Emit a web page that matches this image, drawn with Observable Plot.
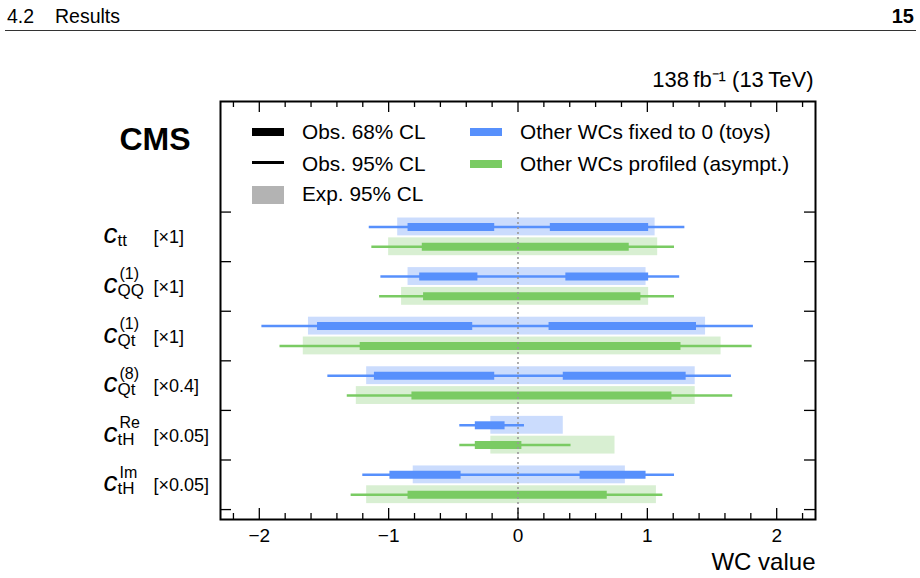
<!DOCTYPE html>
<html>
<head>
<meta charset="utf-8">
<script src="https://cdn.jsdelivr.net/npm/d3@7"></script>
<script src="https://cdn.jsdelivr.net/npm/@observablehq/plot@0.6"></script>
<style>
  html, body { margin: 0; padding: 0; background: #fff; }
  #page { position: relative; width: 920px; height: 578px; overflow: hidden;
          font-family: "Liberation Sans", Arial, Helvetica, sans-serif; color: #000; }
  .abs { position: absolute; white-space: nowrap; line-height: 1; }
</style>
</head>
<body>
<div id="page">
  <div class="abs" style="left:7px;top:6.5px;font-size:19.5px">4.2</div>
  <div class="abs" style="left:55px;top:6.5px;font-size:19.5px">Results</div>
  <div class="abs" style="right:6px;top:6px;font-size:20px;font-weight:bold">15</div>
  <div class="abs" style="left:5px;top:30px;width:911px;height:1px;background:#333"></div>
  <div id="chart" class="abs" style="left:0;top:40px"></div>
  <div id="legend"></div>
</div>
<script>
// Wilson coefficients, top to bottom
const params = ["ctt", "cQQ1", "cQt1", "cQt8", "ctHRe", "ctHIm"];
const symbolSub = ["tt", "QQ", "Qt", "Qt", "tH", "tH"];
const symbolSup = ["", "(1)", "(1)", "(8)", "Re", "Im"];
const scaleTags = ["[×1]", "[×1]", "[×1]", "[×0.4]", "[×0.05]", "[×0.05]"];

// Other WCs fixed to 0 (toys)
const fixedExp95 = [[-0.93, 1.06], [-0.85, 0.99], [-1.62, 1.45], [-1.17, 1.37], [-0.21, 0.35], [-0.81, 0.83]];
const fixedObs95 = [[-1.15, 1.29], [-1.06, 1.25], [-1.98, 1.82], [-1.47, 1.65], [-0.45, 0.05], [-1.20, 1.21]];
const fixedObs68 = [
  [[-0.85, -0.18], [0.25, 1.01]],
  [[-0.76, -0.31], [0.37, 1.01]],
  [[-1.55, -0.35], [0.24, 1.38]],
  [[-1.11, -0.18], [0.35, 1.30]],
  [[-0.33, -0.10]],
  [[-0.99, -0.44], [0.48, 0.99]]
];

// Other WCs profiled (asympt.)
const profExp95 = [[-1.00, 1.08], [-0.90, 1.01], [-1.66, 1.57], [-1.25, 1.37], [-0.21, 0.75], [-1.17, 1.07]];
const profObs95 = [[-1.13, 1.21], [-1.07, 1.21], [-1.84, 1.81], [-1.32, 1.66], [-0.45, 0.41], [-1.29, 1.12]];
const profObs68 = [
  [[-0.74, 0.86]],
  [[-0.73, 0.95]],
  [[-1.22, 1.26]],
  [[-0.82, 1.19]],
  [[-0.33, 0.03]],
  [[-0.85, 0.69]]
];

// axis ticks
const xMajorTicks = [-2, -1, 0, 1, 2];
const xMinorTicks = [-2.2, -1.8, -1.6, -1.4, -1.2, -0.8, -0.6, -0.4, -0.2,
                     0.2, 0.4, 0.6, 0.8, 1.2, 1.4, 1.6, 1.8, 2.2];
const rowEdges = [0, 1, 2, 3, 4, 5, 6];

const lumiLabel = "138\u2009fb\u207B\u00B9 (13\u2009TeV)";
const xLabel = "WC value";

const series = [
  {exp95: fixedExp95, obs95: fixedObs95, obs68: fixedObs68, color: "#5790fc", light: "#cbdcfd", offset: 0.2},
  {exp95: profExp95, obs95: profObs95, obs68: profObs68, color: "#7acb63", light: "#d8efd2", offset: -0.2}
];

const rowCenter = i => params.length - 0.5 - i;
const bands = [], lines = [], cores = [];
series.forEach(s => params.forEach((p, i) => {
  const y = rowCenter(i) + s.offset;
  bands.push({y, lo: s.exp95[i][0], hi: s.exp95[i][1], fill: s.light});
  lines.push({y, lo: s.obs95[i][0], hi: s.obs95[i][1], stroke: s.color});
  s.obs68[i].forEach(([lo, hi]) => cores.push({y, lo, hi, stroke: s.color}));
}));
const labels = params.map((p, i) => ({y: rowCenter(i), sub: symbolSub[i], sup: symbolSup[i], tag: scaleTags[i]}));

const width = 920, height = 538;
const margin = {top: 61, right: 105, bottom: 59, left: 220};
const innerW = width - margin.left - margin.right;
const innerH = height - margin.top - margin.bottom;
const majorLen = 11, minorLen = 6, yTickLen = 11;
const bandHalf = 0.18;

const chart = Plot.plot({
  width, height,
  marginTop: margin.top, marginRight: margin.right,
  marginBottom: margin.bottom, marginLeft: margin.left,
  style: {fontFamily: "'Liberation Sans', Arial, Helvetica, sans-serif", color: "#000", background: "transparent", overflow: "visible"},
  x: {domain: [-2.3, 2.3]},
  y: {domain: [-0.2, 8.23], axis: null},
  color: {type: "identity"},
  marks: [
    // expected 95% CL bands
    Plot.rect(bands, {x1: "lo", x2: "hi", y1: d => d.y - bandHalf, y2: d => d.y + bandHalf, fill: "fill"}),
    // observed 95% CL
    Plot.ruleY(lines, {y: "y", x1: "lo", x2: "hi", stroke: "stroke", strokeWidth: 2.5}),
    // observed 68% CL
    Plot.ruleY(cores, {y: "y", x1: "lo", x2: "hi", stroke: "stroke", strokeWidth: 8}),
    // SM reference
    Plot.ruleX([0], {y1: -0.2, y2: 6, stroke: "#9a9a9a", strokeWidth: 1.6, strokeDasharray: "2,3"}),
    // inward ticks, ROOT style
    Plot.ruleX(xMajorTicks, {insetTop: innerH - majorLen, stroke: "#000", strokeWidth: 1.3}),
    Plot.ruleX(xMinorTicks, {insetTop: innerH - minorLen, stroke: "#000", strokeWidth: 1.3}),
    Plot.ruleX(xMajorTicks, {insetBottom: innerH - majorLen, stroke: "#000", strokeWidth: 1.3}),
    Plot.ruleX(xMinorTicks, {insetBottom: innerH - minorLen, stroke: "#000", strokeWidth: 1.3}),
    Plot.ruleY(rowEdges, {insetRight: innerW - yTickLen, stroke: "#000", strokeWidth: 1.3}),
    Plot.ruleY(rowEdges, {insetLeft: innerW - yTickLen, stroke: "#000", strokeWidth: 1.3}),
    Plot.frame({stroke: "#000", strokeWidth: 2}),
    Plot.axisX({ticks: xMajorTicks, tickSize: 0, tickPadding: 9, fontSize: 19, label: null,
                tickFormat: d => d < 0 ? "\u2212" + Math.abs(d) : String(d)}),
    // row labels: c with sub/superscripts and scale factor
    Plot.text(labels, {y: "y", text: () => "c", frameAnchor: "left", dx: -117, dy: 6.5, lineAnchor: "bottom",
                       textAnchor: "start", fontSize: 28, fontStyle: "italic", fontWeight: "normal"}),
    Plot.text(labels, {y: "y", text: "sub", frameAnchor: "left", dx: -103, dy: 9.5, lineAnchor: "bottom",
                       textAnchor: "start", fontSize: 17}),
    Plot.text(labels, {y: "y", text: "sup", frameAnchor: "left", dx: -101, dy: -7, lineAnchor: "bottom",
                       textAnchor: "start", fontSize: 16}),
    Plot.text(labels, {y: "y", text: "tag", frameAnchor: "left", dx: -67, dy: 6.5, lineAnchor: "bottom",
                       textAnchor: "start", fontSize: 18}),
    Plot.text(["CMS"], {frameAnchor: "top-left", dx: -30, dy: 48.3, lineAnchor: "bottom", textAnchor: "end",
                        fontSize: 32, fontWeight: "bold"}),
    Plot.text([lumiLabel], {frameAnchor: "top-right", dx: -2, dy: -14.3, lineAnchor: "bottom", textAnchor: "end",
                            fontSize: 22}),
    Plot.text([xLabel], {frameAnchor: "bottom-right", dx: 0, dy: 50, lineAnchor: "bottom", textAnchor: "end",
                         fontSize: 24})
  ]
});
document.getElementById("chart").appendChild(chart);

// legend inside the frame
const legendItems = [
  {label: "Obs. 68% CL", color: "#000", sw: {x: 252, y: 128, w: 32, h: 8}, tx: 302, baseline: 140},
  {label: "Obs. 95% CL", color: "#000", sw: {x: 252, y: 161, w: 32, h: 3}, tx: 302, baseline: 171.7},
  {label: "Exp. 95% CL", color: "#b3b3b3", sw: {x: 252, y: 186, w: 32, h: 17.5}, tx: 302, baseline: 201.7},
  {label: "Other WCs fixed to 0 (toys)", color: series[0].color, sw: {x: 470, y: 128, w: 32, h: 8}, tx: 520, baseline: 140},
  {label: "Other WCs profiled (asympt.)", color: series[1].color, sw: {x: 470, y: 160, w: 32, h: 8}, tx: 520, baseline: 171.7}
];
const legendFont = 20.8;
const legend = document.getElementById("legend");
legendItems.forEach(it => {
  const sw = document.createElement("div");
  sw.className = "abs";
  Object.assign(sw.style, {left: it.sw.x + "px", top: it.sw.y + "px", width: it.sw.w + "px",
                           height: it.sw.h + "px", background: it.color});
  legend.appendChild(sw);
  const tx = document.createElement("div");
  tx.className = "abs";
  tx.textContent = it.label;
  Object.assign(tx.style, {left: it.tx + "px", top: (it.baseline - 0.8465 * legendFont) + "px",
                           fontSize: legendFont + "px"});
  legend.appendChild(tx);
});
</script>
</body>
</html>
